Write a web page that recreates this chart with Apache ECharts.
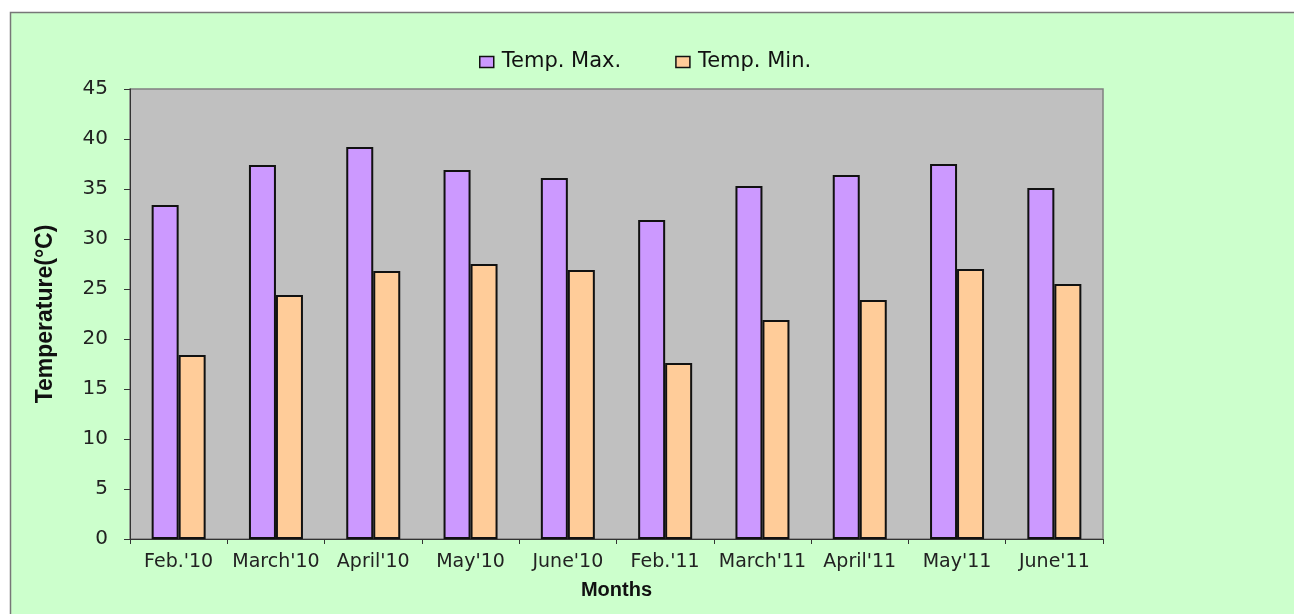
<!DOCTYPE html>
<html>
<head>
<meta charset="utf-8">
<script src="https://cdn.jsdelivr.net/npm/echarts@6/dist/echarts.min.js"></script>
<style>
  html, body { margin: 0; padding: 0; background: #fff; }
  #main { width: 1294px; height: 614px; }
</style>
</head>
<body>
<div id="main"></div>
<script>
const months = ["Feb.'10", "March'10", "April'10", "May'10", "June'10", "Feb.'11", "March'11", "April'11", "May'11", "June'11"]
const tempMax = [33.4, 37.4, 39.2, 36.9, 36.1, 31.9, 35.3, 36.4, 37.5, 35.1]
const tempMin = [18.4, 24.4, 26.8, 27.5, 26.9, 17.6, 21.9, 23.9, 27.0, 25.5]

const myChart = echarts.init(document.getElementById('main'))
// tick labels / legend are a bit wide in the original, DejaVu gets close
const wide = 'DejaVu Sans, sans-serif'
const arial = 'Liberation Sans, Arial, sans-serif'

myChart.setOption({
  animation: false,
  textStyle: { fontFamily: wide },
  graphic: [
    {
      type: 'rect',
      z: -10,
      shape: { x: 10.5, y: 12.5, width: 1300, height: 620 },
      style: { fill: '#ccffcc', stroke: '#777', lineWidth: 1.5 }
    }
  ],
  legend: {
    top: 46,
    left: 474,
    itemWidth: 14,
    itemHeight: 11,
    itemGap: 54,
    itemStyle: { borderWidth: 1.5, borderColor: '#111' },
    textStyle: { fontSize: 21, lineHeight: 22, color: '#111', fontFamily: wide, padding: [0, 0, 0, 3] },
    data: [
      { name: 'Temp. Max.', icon: 'rect' },
      { name: 'Temp. Min.', icon: 'rect' }
    ]
  },
  grid: {
    left: 130,
    right: 191,
    top: 89,
    bottom: 75,
    show: true,
    backgroundColor: '#c0c0c0',
    borderColor: '#808080',
    borderWidth: 1.5
  },
  xAxis: {
    type: 'category',
    data: months,
    name: 'Months',
    nameLocation: 'middle',
    nameGap: 41,
    nameTextStyle: { fontSize: 20, fontWeight: 'bold', color: '#111', fontFamily: arial },
    axisLine: { lineStyle: { color: '#333', width: 1 } },
    axisTick: { show: true, length: 5, lineStyle: { color: '#333' } },
    axisLabel: { fontSize: 19, color: '#222', margin: 14, interval: 0 }
  },
  yAxis: {
    type: 'value',
    min: 0,
    max: 45,
    interval: 5,
    name: 'Temperature(°C)',
    nameLocation: 'middle',
    nameGap: 73,
    nameTextStyle: { fontSize: 23, fontWeight: 'bold', color: '#111', fontFamily: arial },
    axisLine: { show: true, lineStyle: { color: '#333', width: 1 } },
    axisTick: { show: true, length: 6, lineStyle: { color: '#333' } },
    axisLabel: { fontSize: 20, color: '#222', margin: 22 },
    splitLine: { show: false }
  },
  series: [
    {
      name: 'Temp. Max.',
      type: 'bar',
      data: tempMax,
      barWidth: 27,
      barGap: '0%',
      itemStyle: { color: '#cc99ff', borderColor: '#111', borderWidth: 2 }
    },
    {
      name: 'Temp. Min.',
      type: 'bar',
      data: tempMin,
      barWidth: 27,
      barGap: '0%',
      itemStyle: { color: '#ffcc99', borderColor: '#111', borderWidth: 2 }
    }
  ]
})
</script>
</body>
</html>
